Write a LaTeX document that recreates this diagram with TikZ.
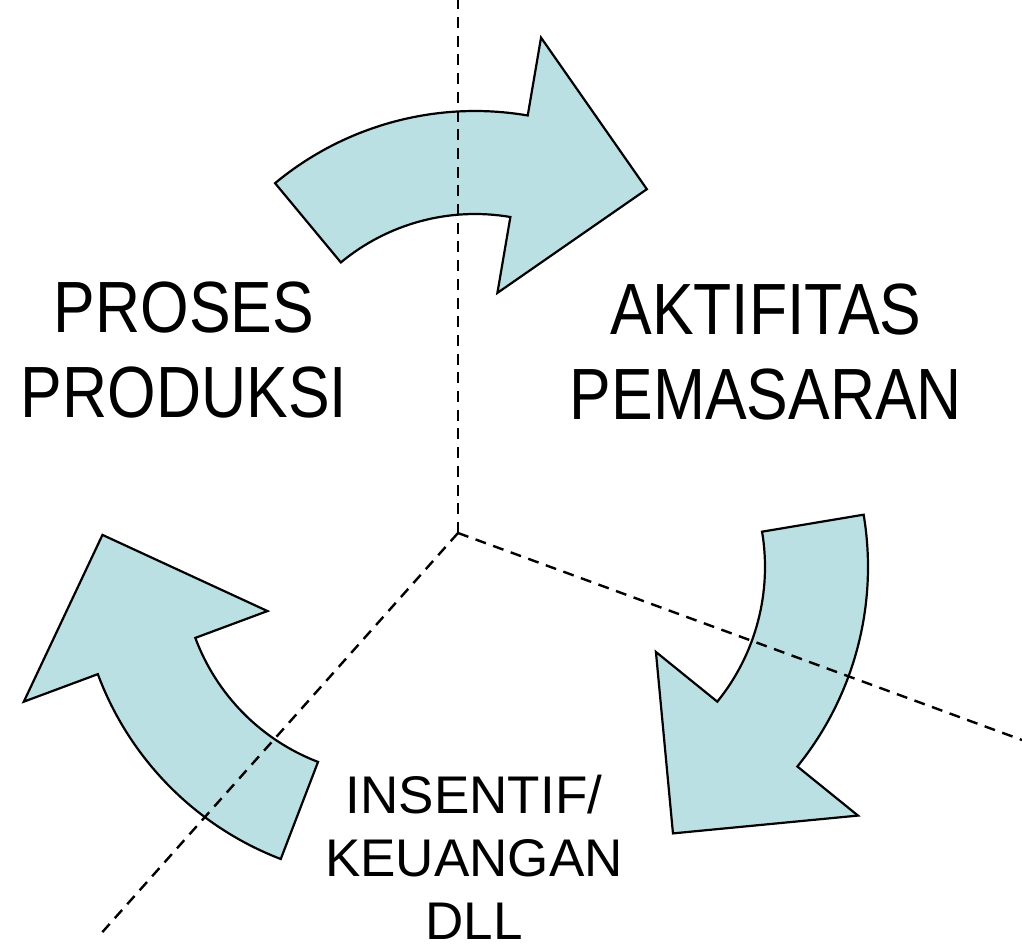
\documentclass[tikz,border=0pt]{standalone}
\usepackage{fontspec}
\setmainfont{Liberation Sans}
\newfontfamily\bigcond[FakeStretch=0.86]{Liberation Sans}
\usetikzlibrary{calc}
\definecolor{arrowfill}{RGB}{187,224,227}
\begin{document}
\begin{tikzpicture}[x=1pt,y=1pt,
  curvedarrow/.style={draw=black, line width=2.2pt, fill=arrowfill, line join=miter},
  divider/.style={draw=black, line width=2.4pt, dash pattern=on 11pt off 7.7pt},
  bigtext/.style={inner sep=0pt, align=center, font=\bigcond\fontsize{72.6}{85}\selectfont},
  smalltext/.style={inner sep=0pt, align=center, font=\fontsize{53}{63}\selectfont}
]
\useasboundingbox (0,0) rectangle (1022,946);
% arrow centres
\coordinate (ct) at (475,522);
\coordinate (cr) at (551,379);
\coordinate (cl) at (394,382);
% top arrow
\path[curvedarrow] ($(ct)+(129.7:313pt)$) arc[start angle=129.7, end angle=80.3, radius=313pt]
  -- ($(ct)+(80.3:392pt)$) -- ($(ct)+(53.8:291pt)$) -- ($(ct)+(80.3:133pt)$)
  -- ($(ct)+(80.3:210pt)$) arc[start angle=80.3, end angle=129.7, radius=210pt] -- cycle;
% right arrow
\path[curvedarrow] ($(cr)+(9.5:317pt)$) arc[start angle=9.5, end angle=-39, radius=317pt]
  -- ($(cr)+(-39:395pt)$) -- ($(cr)+(-65.4:293pt)$) -- ($(cr)+(-39:135pt)$)
  -- ($(cr)+(-39:214pt)$) arc[start angle=-39, end angle=9.5, radius=214pt] -- cycle;
% left arrow
\path[curvedarrow] ($(cl)+(249:316pt)$) arc[start angle=249, end angle=200.4, radius=316pt]
  -- ($(cl)+(200.4:395pt)$) -- ($(cl)+(174.3:293pt)$) -- ($(cl)+(200.4:135pt)$)
  -- ($(cl)+(200.4:212pt)$) arc[start angle=200.4, end angle=249, radius=212pt] -- cycle;
% dashed dividers
\coordinate (hub) at (458,413);
\coordinate (topend) at (458,946);
\coordinate (leftend) at (98,9);
\coordinate (rightend) at (1022,206);
\draw[divider] (hub) -- (topend);
\draw[divider] (hub) -- (leftend);
\draw[divider] (hub) -- (rightend);
% labels
\node[bigtext] (proses) at (184,596) {PROSES\\PRODUKSI};
\node[bigtext] (aktif) at (766,594) {AKTIFITAS\\PEMASARAN};
\node[smalltext] (insentif) at (474,89) {INSENTIF/\\KEUANGAN\\DLL};
\end{tikzpicture}
\end{document}
